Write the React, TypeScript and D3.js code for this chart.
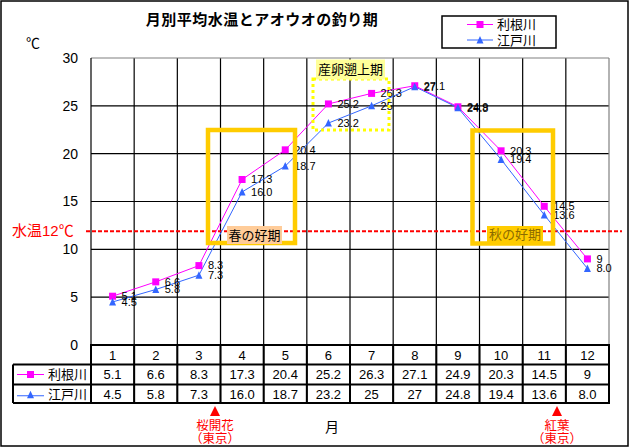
import React from 'react';
import * as d3 from 'd3';

const months = ['1', '2', '3', '4', '5', '6', '7', '8', '9', '10', '11', '12'];
const toneValues = [5.1, 6.6, 8.3, 17.3, 20.4, 25.2, 26.3, 27.1, 24.9, 20.3, 14.5, 9];
const edoValues = [4.5, 5.8, 7.3, 16.0, 18.7, 23.2, 25, 27, 24.8, 19.4, 13.6, 8.0];
const toneTable = ['5.1', '6.6', '8.3', '17.3', '20.4', '25.2', '26.3', '27.1', '24.9', '20.3', '14.5', '9'];
const edoTable = ['4.5', '5.8', '7.3', '16.0', '18.7', '23.2', '25', '27', '24.8', '19.4', '13.6', '8.0'];
const yTicks = [0, 5, 10, 15, 20, 25, 30];
const seriesNames = ['利根川', '江戸川'];
const threshold = 12;

const FONT = "'Liberation Sans', Arial, 'Noto Sans CJK JP', sans-serif";
const MAG = '#FF00FF';
const BLUE = '#3366FF';
const GOLD = '#FFCC00';

export default function App() {
  const W = 630, H = 447;
  const L = 91, R = 609, T = 58, B = 345;
  const x = d3.scaleBand<string>().domain(months).range([L, R]).paddingInner(0).paddingOuter(0);
  const y = d3.scaleLinear().domain([0, 30]).range([B, T]);
  const cx = (i: number) => (x(months[i]) as number) + x.bandwidth() / 2;
  const line = d3.line<number>().x((_, i) => cx(i)).y((d) => y(d));

  const rowTop = [345, 364.5, 384.5, 403];
  const tableLeft = 13;

  const square = (px: number, py: number, key: string, s = 7) => (
    <rect key={key} x={px - s / 2} y={py - s / 2} width={s} height={s} fill={MAG} />
  );
  const tri = (px: number, py: number, key: string, s = 7) => (
    <path key={key} d={`M${px},${py - s / 2 - 0.5} L${px + s / 2},${py + s / 2} L${px - s / 2},${py + s / 2} Z`} fill={BLUE} />
  );

  return (
    <svg width={W} height={H} style={{ position: 'absolute', left: 0, top: 0, fontFamily: FONT }}>
      <rect x={0} y={0} width={W} height={H} fill="#fff" />
      <rect x={1} y={1} width={627} height={445} fill="none" stroke="#000" strokeWidth={1.5} />

      {/* title */}
      <text x={262} y={25} textAnchor="middle" fontSize={15} fontWeight="bold" letterSpacing={0.5}>
        月別平均水温とアオウオの釣り期
      </text>
      <text x={33} y={48} textAnchor="middle" fontSize={14}>℃</text>

      {/* legend */}
      <rect x={442} y={16} width={114} height={32} fill="#fff" stroke="#000" strokeWidth={1.5} />
      <line x1={467} x2={493} y1={24.5} y2={24.5} stroke={MAG} strokeWidth={1} />
      {square(480, 24.5, 'lg1')}
      <text x={497} y={29} fontSize={13}>{seriesNames[0]}</text>
      <line x1={467} x2={493} y1={40} y2={40} stroke={BLUE} strokeWidth={1} />
      {tri(480, 40, 'lg2')}
      <text x={497} y={45} fontSize={13}>{seriesNames[1]}</text>

      {/* gridlines */}
      {yTicks.filter((t) => t > 0 && t < 30).map((t) => (
        <line key={'h' + t} x1={L} x2={R} y1={y(t)} y2={y(t)} stroke="#000" strokeWidth={1.2} />
      ))}
      {months.slice(1).map((m) => (
        <line key={'v' + m} x1={x(m) as number} x2={x(m) as number} y1={T} y2={rowTop[3]} stroke="#000" strokeWidth={1.2} />
      ))}
      <line x1={L} x2={R} y1={T} y2={T} stroke="#808080" strokeWidth={1.2} />
      <line x1={R} x2={R} y1={T} y2={B} stroke="#808080" strokeWidth={1.2} />
      <line x1={L} x2={L} y1={T} y2={B} stroke="#000" strokeWidth={1.2} />

      {/* y tick labels */}
      {yTicks.map((t) => (
        <text key={'yt' + t} x={78} y={y(t)} dy="0.35em" textAnchor="end" fontSize={14}>{t}</text>
      ))}

      {/* threshold line */}
      <line x1={86} x2={622} y1={y(threshold) + 1} y2={y(threshold) + 1} stroke="#FF0000" strokeWidth={2} strokeDasharray="4 2" />
      <text x={12} y={y(threshold) + 6} fontSize={15} fill="#FF0000">水温12℃</text>

      {/* series */}
      <path d={line(toneValues) || ''} fill="none" stroke={MAG} strokeWidth={1} />
      <path d={line(edoValues) || ''} fill="none" stroke={BLUE} strokeWidth={1} />
      {toneValues.map((v, i) => square(cx(i), y(v), 'ts' + i))}
      {edoValues.map((v, i) => tri(cx(i), y(v), 'es' + i))}
      {toneValues.map((v, i) => (
        <text key={'tl' + i} x={cx(i) + 9} y={y(v)} dy="0.35em" fontSize={11}>{String(v)}</text>
      ))}
      {edoValues.map((v, i) => (
        <text key={'el' + i} x={cx(i) + 9} y={y(v)} dy="0.35em" fontSize={11}>{edoTable[i]}</text>
      ))}

      {/* spawning period */}
      <rect x={313} y={79} width={76} height={51} fill="none" stroke="#FFFF00" strokeWidth={3} strokeDasharray="3 3" />
      <rect x={316} y={59.5} width={69} height={20} fill="#FFFF99" />
      <text x={350.5} y={74} textAnchor="middle" fontSize={13}>産卵遡上期</text>

      {/* spring box */}
      <rect x={208} y={130} width={87} height={113} fill="none" stroke={GOLD} strokeWidth={4.5} />
      <rect x={227} y={226} width={55} height={18} fill="#FFCC99" />
      <text x={254.5} y={239.5} textAnchor="middle" fontSize={13}>春の好期</text>

      {/* autumn box */}
      <rect x={472.5} y={130.5} width={80.5} height={113} fill="none" stroke={GOLD} strokeWidth={4.5} />
      <rect x={487} y={226} width={56} height={16} fill={GOLD} />
      <text x={515} y={239} textAnchor="middle" fontSize={13} fill="#8B6B00">秋の好期</text>

      {/* table */}
      {months.map((m, i) => (
        <text key={'mt' + m} x={cx(i)} y={(rowTop[0] + rowTop[1]) / 2} dy="0.38em" textAnchor="middle" fontSize={13}>{m}</text>
      ))}
      {toneTable.map((s, i) => (
        <text key={'tt' + i} x={cx(i)} y={(rowTop[1] + rowTop[2]) / 2} dy="0.38em" textAnchor="middle" fontSize={13}>{s}</text>
      ))}
      {edoTable.map((s, i) => (
        <text key={'et' + i} x={cx(i)} y={(rowTop[2] + rowTop[3]) / 2} dy="0.38em" textAnchor="middle" fontSize={13}>{s}</text>
      ))}
      <line x1={17} x2={44} y1={(rowTop[1] + rowTop[2]) / 2} y2={(rowTop[1] + rowTop[2]) / 2} stroke={MAG} strokeWidth={1} />
      {square(30.5, (rowTop[1] + rowTop[2]) / 2, 'tbs')}
      <text x={48} y={(rowTop[1] + rowTop[2]) / 2} dy="0.38em" fontSize={13}>{seriesNames[0]}</text>
      <line x1={17} x2={44} y1={(rowTop[2] + rowTop[3]) / 2 + 2} y2={(rowTop[2] + rowTop[3]) / 2 + 2} stroke={BLUE} strokeWidth={1} />
      {tri(30.5, (rowTop[2] + rowTop[3]) / 2 + 1, 'tbe')}
      <text x={48} y={(rowTop[2] + rowTop[3]) / 2} dy="0.38em" fontSize={13}>{seriesNames[1]}</text>

      <g stroke="#000" strokeWidth={2} fill="none">
        <line x1={L - 1} x2={R + 1} y1={rowTop[0]} y2={rowTop[0]} />
        <line x1={tableLeft} x2={R + 1} y1={rowTop[1]} y2={rowTop[1]} />
        <line x1={tableLeft} x2={R + 1} y1={rowTop[2]} y2={rowTop[2]} />
        <line x1={tableLeft} x2={R + 1} y1={rowTop[3]} y2={rowTop[3]} />
        <line x1={tableLeft} x2={tableLeft} y1={rowTop[1]} y2={rowTop[3]} />
        <line x1={L} x2={L} y1={rowTop[0]} y2={rowTop[3]} />
        <line x1={R} x2={R} y1={rowTop[0]} y2={rowTop[3]} />
        {months.slice(1).map((m) => (
          <line key={'tv' + m} x1={x(m) as number} x2={x(m) as number} y1={rowTop[0]} y2={rowTop[3]} />
        ))}
      </g>

      {/* x axis title */}
      <text x={332} y={432} textAnchor="middle" fontSize={14}>月</text>

      {/* annotations */}
      <path d="M215,406 L220,416 L210,416 Z" fill="#FF0000" />
      <text x={215} y={430} textAnchor="middle" fontSize={12.5} fill="#FF0000">桜開花</text>
      <text x={215} y={443} textAnchor="middle" fontSize={12.5} fill="#FF0000">（東京）</text>
      <path d="M557,406 L562,416 L552,416 Z" fill="#FF0000" />
      <text x={557} y={430} textAnchor="middle" fontSize={12.5} fill="#FF0000">紅葉</text>
      <text x={557} y={443} textAnchor="middle" fontSize={12.5} fill="#FF0000">（東京）</text>
    </svg>
  );
}
